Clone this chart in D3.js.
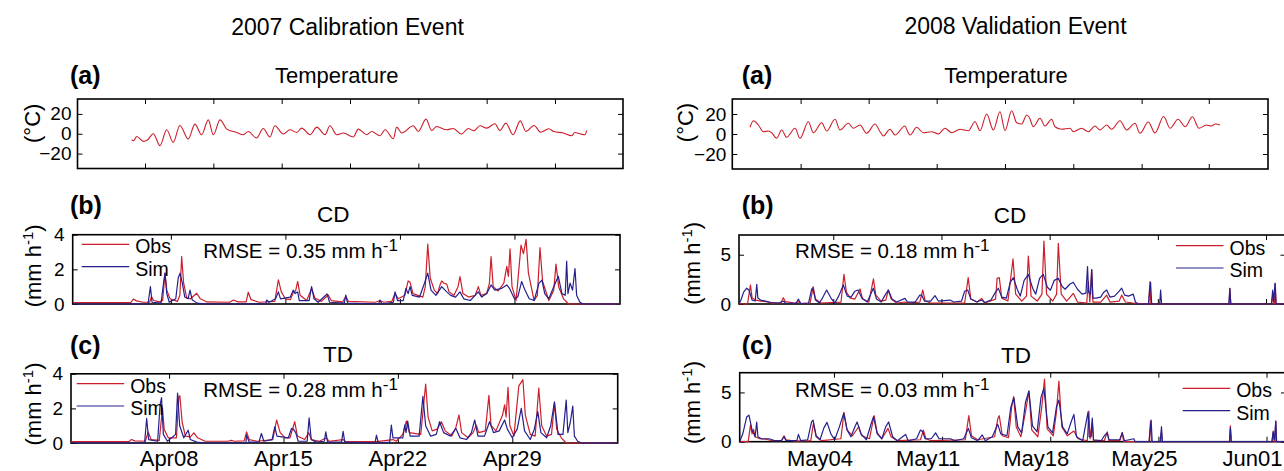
<!DOCTYPE html>
<html>
<head>
<meta charset="utf-8">
<script src="https://d3js.org/d3.v7.min.js"></script>
<style>
  body { margin: 0; background: #fff; overflow: hidden; }
  svg { display: block; }
</style>
</head>
<body>
<div id="chart"></div>
<script>
// ---- data (x = day counted from 1 April, y = value) ----
const calDays = [2, 35.45];          // 2007 event x range
const valDays = [27.9, 63.26];       // 2008 event x range
const calDateTicks = [8, 15, 22, 29];
const calDateLabels = ['Apr08', 'Apr15', 'Apr22', 'Apr29'];
const valDateTicks = [34, 41, 48, 55, 62];
const valDateLabels = ['May04', 'May11', 'May18', 'May25', 'Jun01'];
const calTempTickDays = [6.14, 10.33, 14.52, 18.71, 22.9, 27.09, 31.28];
const valTempTickDays = [32.41, 36.9, 41.39, 45.9, 50.41, 54.92, 59.35];
const tempRange = [-35, 35];
const tempTicks = [-20, 0, 20];
const calRateRange = [0, 4];
const calRateTicks = [0, 2, 4];
const valRateRange = [0, 7];
const valRateTicks = [0, 5];
const calRmse = [0.35, 0.28];   // CD, TD
const valRmse = [0.18, 0.03];

const calTempC = [[5.32,-6],[5.45,-7],[5.63,-2.7],[6.04,-7.7],[6.3,-6],[6.65,0],[7.06,-12],[7.47,4],[7.87,-8.7],[8.28,8.3],[8.79,-5.3],[9.2,9.7],[9.61,-1],[10.02,14],[10.33,-1],[10.74,14],[11.15,4.7],[11.76,1.3],[12.17,-1],[12.47,2.3],[12.98,-4.3],[13.39,5.3],[13.8,-3.3],[14.1,8],[14.62,-0.3],[15.03,4],[15.44,1.3],[15.75,5.7],[16.26,-1],[16.67,6.7],[17.18,-1],[17.48,8],[17.89,-1],[18.3,0.7],[18.91,-3.3],[19.22,4.7],[19.73,-1],[20.04,2.3],[20.55,-2],[20.86,4],[21.37,-5],[21.57,6.7],[21.88,0.7],[22.59,8],[22.9,2.3],[23.37,14.7],[23.72,3.3],[24.02,7.3],[24.64,4],[25.04,5.3],[25.55,-0.3],[25.96,5.3],[26.3,3],[26.68,8],[27.09,5.7],[27.6,10],[27.9,3.3],[28.27,10.7],[28.71,-1],[29.15,13],[29.5,2.3],[30.0,8.3],[30.4,1.5],[30.9,5],[31.2,2.3],[31.79,0.7],[32.3,-2],[32.5,1.3],[32.81,0],[33.12,-1],[33.22,3.3]];

const calCdObs = [[2.0,0.08],[5.55,0.08],[5.71,0.29],[5.9,0.18],[6.3,0.1],[6.7,0.1],[6.82,0.42],[6.95,0.2],[7.3,0.12],[7.5,0.2],[7.64,1.78],[7.75,0.8],[7.95,0.3],[8.4,0.15],[8.55,0.5],[8.66,2.74],[8.78,1.2],[8.97,0.35],[9.2,0.3],[9.58,0.62],[9.8,0.3],[10.2,0.12],[11.6,0.1],[11.82,0.23],[12.1,0.12],[12.6,0.12],[12.73,0.68],[12.9,0.25],[13.4,0.1],[14.35,0.15],[14.57,1.39],[14.75,0.7],[15.0,0.3],[15.3,0.25],[15.5,0.7],[15.62,0.75],[15.75,1.3],[15.9,0.5],[16.3,0.2],[16.6,0.9],[16.8,0.35],[17.2,0.15],[17.62,0.52],[17.8,0.2],[18.5,0.12],[18.69,0.43],[18.85,0.15],[20.5,0.1],[20.78,0.2],[21.0,0.1],[21.5,0.15],[21.7,0.6],[21.9,0.3],[22.3,0.5],[22.5,1.33],[22.62,1.25],[22.8,0.6],[23.4,0.4],[23.55,1.0],[23.7,3.46],[23.85,1.5],[24.1,0.8],[24.3,0.6],[24.45,1.1],[24.55,1.33],[24.7,1.2],[24.86,1.15],[25.0,0.7],[25.3,0.5],[25.55,1.0],[25.67,1.58],[25.85,0.6],[26.2,0.4],[26.6,0.5],[26.79,1.0],[26.95,0.5],[27.3,0.6],[27.47,1.2],[27.57,2.74],[27.7,1.0],[28.0,0.75],[28.35,1.2],[28.53,2.18],[28.63,1.6],[28.73,3.19],[28.85,1.0],[29.1,0.2],[29.4,3.4],[29.55,2.9],[29.71,3.73],[29.85,1.8],[30.2,0.2],[30.4,0.5],[30.56,3.25],[30.72,1.3],[31.1,0.2],[31.4,0.8],[31.54,2.3],[31.7,1.0],[32.0,0.3],[32.3,0],[35.45,0]];

const calCdSim = [[2.0,0],[6.6,0],[6.75,1.0],[6.85,0.1],[7.4,0.05],[7.55,1.2],[7.64,1.78],[7.75,0.6],[7.9,0.1],[8.3,0.3],[8.45,1.5],[8.56,1.78],[8.7,1.2],[8.85,0.4],[9.05,0.3],[9.17,0.8],[9.3,0.25],[9.6,0.05],[10.2,0],[13.8,0],[13.86,0.23],[14.0,0.1],[14.4,0.3],[14.57,0.7],[14.7,0.3],[15.3,0.4],[15.48,0.8],[15.6,0.6],[15.75,0.7],[15.85,0.2],[16.45,0.2],[16.6,1.0],[16.75,0.3],[17.0,0.1],[17.55,0.58],[17.7,0.1],[18.6,0.05],[18.69,0.52],[18.8,0.05],[20.7,0],[20.78,0.23],[20.9,0],[21.6,0.1],[21.7,0.7],[21.85,0.2],[22.2,0.2],[22.37,0.9],[22.5,0.6],[22.62,1.0],[22.75,0.5],[23.2,0.4],[23.5,1.2],[23.7,1.78],[23.9,0.8],[24.2,0.5],[24.55,1.0],[24.86,0.7],[25.1,0.5],[25.4,0.4],[25.67,0.7],[25.9,0.3],[26.3,0.2],[26.6,0.5],[26.79,0.7],[27.0,0.4],[27.3,0.6],[27.57,1.1],[27.8,0.8],[28.2,0.9],[28.53,1.1],[28.7,0.9],[29.0,0.3],[29.2,0.4],[29.44,1.3],[29.6,0.9],[29.9,0.3],[30.2,0.2],[30.5,1.2],[30.68,1.38],[30.85,0.6],[31.1,0.3],[31.4,1.0],[31.68,1.6],[31.9,0.6],[32.1,0.5],[32.19,2.47],[32.27,0.6],[32.4,1.2],[32.55,0.8],[32.7,2.05],[32.8,0.5],[33.0,0.1],[33.2,0],[35.45,0]];

const calTdObs = [[2.0,0.08],[5.55,0.08],[5.7,0.2],[5.9,0.12],[6.55,0.1],[6.72,0.64],[6.9,0.2],[7.4,0.15],[7.6,2.0],[7.7,0.8],[7.95,0.3],[8.45,0.3],[8.6,2.7],[8.66,2.73],[8.8,1.2],[9.0,0.4],[9.3,0.35],[9.52,0.59],[9.75,0.3],[10.2,0.1],[11.6,0.1],[11.8,0.15],[12.0,0.1],[12.6,0.12],[12.74,0.64],[12.9,0.2],[13.4,0.1],[14.35,0.2],[14.58,1.33],[14.8,0.6],[15.1,0.3],[15.4,0.3],[15.69,1.23],[15.85,0.4],[16.3,0.2],[16.55,0.6],[16.7,0.2],[17.2,0.1],[17.62,0.3],[17.8,0.1],[18.65,0.2],[18.8,0.08],[20.7,0.08],[21.7,0.2],[21.9,0.1],[22.3,0.5],[22.52,1.27],[22.7,0.6],[23.4,0.5],[23.7,3.41],[23.85,1.5],[24.1,0.7],[24.4,0.8],[24.66,1.23],[24.9,0.7],[25.3,0.4],[25.55,0.9],[25.74,1.62],[25.9,0.6],[26.3,0.3],[26.6,0.6],[26.8,1.03],[26.95,0.6],[27.35,0.7],[27.57,2.75],[27.7,1.0],[28.0,0.7],[28.4,1.6],[28.53,2.2],[28.62,1.5],[28.74,3.22],[28.85,1.0],[29.1,0.4],[29.4,3.3],[29.65,3.66],[29.8,1.6],[30.1,0.5],[30.4,0.4],[30.62,3.18],[30.8,1.0],[31.1,0.4],[31.4,0.5],[31.58,2.29],[31.72,0.8],[32.0,0.3],[32.3,0],[35.45,0]];

const calTdSim = [[2.0,0],[6.5,0],[6.63,1.42],[6.75,0.2],[7.3,0.1],[7.45,2.2],[7.54,2.63],[7.65,0.5],[7.9,0.1],[8.4,0.5],[8.52,2.89],[8.65,1.0],[8.9,0.3],[9.17,0.74],[9.3,0.2],[9.7,0.05],[10.2,0],[12.7,0],[12.74,0.45],[12.9,0.05],[13.5,0.05],[13.65,0.55],[13.8,0.1],[14.3,0.2],[14.47,0.94],[14.6,0.4],[15.3,0.3],[15.49,0.84],[15.6,0.8],[15.75,0.6],[15.9,0.1],[16.45,0.1],[16.57,1.46],[16.7,0.2],[17.0,0.05],[17.5,0.1],[17.59,0.64],[17.7,0.05],[18.55,0.05],[18.65,0.68],[18.75,0.05],[20.6,0],[20.69,0.45],[20.8,0],[21.5,0.05],[21.6,1.03],[21.7,0.3],[22.3,0.3],[22.42,1.03],[22.5,0.6],[22.6,1.27],[22.75,0.4],[23.3,0.4],[23.53,2.69],[23.7,1.0],[24.0,0.4],[24.35,0.5],[24.55,1.23],[24.8,0.6],[25.2,0.4],[25.55,0.84],[25.8,0.3],[26.2,0.2],[26.5,0.6],[26.7,1.33],[26.9,0.4],[27.3,0.4],[27.61,1.23],[27.85,0.6],[28.2,0.7],[28.53,1.33],[28.7,0.8],[29.0,0.3],[29.3,0.8],[29.55,2.0],[29.75,0.7],[30.1,0.2],[30.35,0.8],[30.56,1.81],[30.75,0.6],[31.1,0.3],[31.35,1.0],[31.58,2.38],[31.8,0.5],[32.1,0.5],[32.3,2.48],[32.4,0.6],[32.55,1.2],[32.7,2.13],[32.8,0.4],[33.0,0.1],[33.25,0],[35.45,0]];

const valTempC = [[29.07,6.7],[29.29,13.3],[29.62,9],[29.95,2.3],[30.28,3],[30.5,1.3],[30.83,-4.3],[31.16,4],[31.49,-3.3],[32.04,5.7],[32.37,-4.3],[32.92,12.3],[33.25,1.3],[33.8,11.3],[34.13,3],[34.68,14.7],[35.01,4],[35.56,10.7],[35.89,5.7],[36.33,9],[36.77,0.7],[37.32,10],[37.65,2.3],[37.87,-2],[38.31,4.7],[38.64,-1],[39.3,8],[39.45,3.3],[39.63,-1],[40.07,6.7],[40.51,1.3],[41.06,2.3],[41.5,0],[41.94,5.7],[42.38,1.3],[42.93,4.7],[43.48,3.3],[43.92,12.3],[44.25,3.3],[44.69,20],[45.13,4],[45.57,22.3],[45.9,3.3],[46.34,23.3],[46.67,11.3],[47.0,10],[47.33,19],[47.5,16.7],[47.77,7.3],[48.21,15.7],[48.54,8],[48.98,14.7],[49.2,7.3],[49.64,4.7],[50.19,5.7],[50.41,2.3],[50.96,5.7],[51.4,2.3],[51.84,8],[52.17,4],[52.61,9],[52.94,4.7],[53.49,13.3],[53.93,4],[54.48,10.7],[54.81,0.7],[55.36,12],[55.8,1],[56.37,17.5],[56.8,5.7],[57.32,14.7],[57.8,7.3],[58.27,17.3],[58.7,5.7],[59.2,9],[59.5,8],[59.8,10],[60.09,9]];

const valCdObs = [[27.9,0],[28.45,0],[28.64,1.93],[28.75,0.6],[29.0,0.4],[29.3,0.3],[29.6,0.25],[30.0,0.1],[30.6,0.1],[30.77,0.64],[30.9,0.25],[31.5,0.1],[31.74,0.24],[31.9,0.05],[32.5,0.1],[32.7,1.76],[32.85,0.5],[33.2,0.1],[34.5,0.2],[34.69,3.0],[34.85,1.2],[35.1,0.6],[35.4,0.5],[35.73,1.52],[35.9,0.5],[36.3,0.2],[36.6,2.54],[36.75,0.9],[37.1,0.3],[37.4,0.4],[37.56,1.42],[37.75,0.5],[38.1,0.1],[38.64,0.2],[38.8,0.1],[39.6,0.2],[39.79,1.42],[39.95,0.3],[40.3,0.1],[42.5,0.1],[42.73,2.67],[42.9,0.5],[43.3,0.2],[43.6,0.57],[43.8,0.1],[44.5,0.5],[44.6,2.6],[44.74,2.67],[44.9,0.6],[45.3,0.3],[45.63,4.57],[45.8,1.0],[46.2,0.3],[46.5,0.8],[46.62,4.87],[46.8,0.8],[47.2,0.3],[47.5,1.0],[47.63,6.39],[47.8,1.0],[48.2,0.3],[48.45,1.0],[48.56,6.15],[48.75,1.0],[49.1,0.3],[49.53,1.08],[49.8,0.2],[50.4,0.1],[50.5,2.27],[50.6,0.2],[50.72,3.5],[50.8,0.2],[51.3,0.2],[51.69,0.9],[51.9,0.2],[52.5,0.3],[52.66,0.9],[52.9,0.2],[53.4,0.1],[54.4,0],[54.49,2.27],[54.55,0],[59.6,0],[59.66,1.6],[59.72,0],[62.35,0],[62.43,0.8],[62.5,0],[62.55,0],[62.6,2.1],[62.65,0],[63.26,0]];

const valCdSim = [[27.9,0],[28.0,0.3],[28.2,1.2],[28.4,1.6],[28.55,1.4],[28.75,0.4],[28.95,0.3],[29.05,2.0],[29.12,0.6],[29.3,0.4],[29.6,0.3],[30.0,0.15],[30.5,0.1],[30.77,0.3],[30.9,0.1],[31.6,0.05],[31.74,0.5],[31.9,0.05],[32.4,0.1],[32.6,1.5],[32.67,1.6],[32.85,0.4],[33.1,0.1],[33.3,0.6],[33.57,1.42],[33.85,0.6],[34.1,0.1],[34.35,0.8],[34.65,1.93],[34.9,0.8],[35.15,0.7],[35.4,1.3],[35.6,1.42],[35.85,0.6],[36.2,0.2],[36.45,1.1],[36.59,1.6],[36.8,0.5],[37.1,0.2],[37.35,0.9],[37.56,1.42],[37.8,0.5],[38.1,0.2],[38.64,0.57],[38.8,0.2],[39.3,0.2],[39.6,0.9],[39.72,0.9],[39.9,0.3],[40.3,0.3],[40.58,0.85],[40.8,0.3],[41.2,0.35],[41.55,0.4],[41.8,0.2],[42.3,0.3],[42.5,1.3],[42.7,1.42],[42.9,0.5],[43.3,0.2],[43.6,0.4],[43.8,0.15],[44.2,0.4],[44.5,1.2],[44.68,1.6],[44.9,0.7],[45.2,0.6],[45.45,2.2],[45.65,2.67],[45.9,1.5],[46.1,0.8],[46.35,2.4],[46.62,3.0],[46.9,1.6],[47.1,1.0],[47.35,2.6],[47.59,3.0],[47.85,1.7],[48.05,1.4],[48.3,2.4],[48.56,2.6],[48.8,1.8],[49.0,1.5],[49.3,2.0],[49.53,2.2],[49.8,1.5],[50.1,1.0],[50.35,1.1],[50.45,3.79],[50.52,1.2],[50.65,1.0],[50.72,3.5],[50.8,0.6],[51.0,0.6],[51.3,0.7],[51.5,1.2],[51.69,1.42],[51.9,0.7],[52.2,0.8],[52.5,1.3],[52.66,1.6],[52.85,0.9],[53.1,0.8],[53.41,1.0],[53.55,0.2],[53.7,0],[54.4,0],[54.45,1.0],[54.53,2.2],[54.6,0],[55.12,0],[55.18,1.42],[55.24,0],[59.6,0],[59.66,1.6],[59.72,0],[62.35,0],[62.43,1.4],[62.5,0.3],[62.58,2.1],[62.65,0],[63.26,0]];

const valTdObs = [[27.9,0],[28.45,0],[28.6,1.7],[28.7,0.8],[28.8,1.25],[28.9,0.5],[29.2,0.3],[29.6,0.25],[30.0,0.1],[30.6,0.1],[30.77,0.6],[30.9,0.2],[31.5,0.05],[32.5,0.1],[32.67,1.86],[32.85,0.5],[33.2,0.1],[34.45,0.3],[34.65,2.98],[34.85,1.2],[35.2,0.6],[35.6,1.52],[35.8,0.6],[36.3,0.3],[36.6,2.64],[36.8,0.9],[37.1,0.3],[37.5,1.35],[37.7,0.5],[38.1,0.1],[39.6,0.2],[39.79,1.18],[39.95,0.3],[40.3,0.1],[42.5,0.2],[42.73,2.64],[42.9,0.6],[43.3,0.2],[44.4,0.5],[44.6,2.3],[44.7,2.64],[44.9,0.6],[45.3,0.4],[45.5,3.5],[45.63,4.57],[45.8,1.5],[46.1,0.5],[46.45,3.5],[46.62,5.14],[46.8,1.2],[47.2,0.5],[47.45,3.5],[47.63,6.36],[47.8,1.3],[48.2,0.6],[48.4,3.0],[48.56,6.15],[48.75,1.5],[49.1,0.6],[49.53,1.08],[49.8,0.3],[50.4,0.1],[50.5,3.1],[50.58,0.3],[50.72,2.0],[50.8,0.1],[51.5,0.1],[51.69,1.0],[51.8,0.1],[52.5,0.1],[52.66,0.95],[52.75,0],[54.4,0],[54.49,2.1],[54.55,0],[55.12,0],[55.2,1.0],[55.25,0],[59.6,0],[59.66,1.62],[59.72,0],[62.35,0],[62.43,1.08],[62.5,0],[62.55,0],[62.6,2.1],[62.65,0],[63.26,0]];

const valTdSim = [[27.9,0],[28.1,0.8],[28.35,2.5],[28.5,2.7],[28.7,1.2],[28.9,0.5],[29.0,2.0],[29.08,0.5],[29.3,0.3],[29.8,0.3],[30.2,0.1],[30.6,0.1],[30.77,0.5],[30.9,0.1],[31.6,0.1],[31.7,0.74],[31.85,0.1],[32.3,0.2],[32.55,2.0],[32.65,2.2],[32.85,0.6],[33.1,0.2],[33.35,1.4],[33.55,1.96],[33.8,0.8],[34.05,0.2],[34.35,1.5],[34.63,2.87],[34.85,1.2],[35.1,0.5],[35.35,1.5],[35.5,2.0],[35.75,0.8],[36.1,0.2],[36.4,1.8],[36.56,2.54],[36.8,0.8],[37.1,0.3],[37.35,1.5],[37.54,2.0],[37.8,0.5],[38.1,0.1],[38.64,0.74],[38.8,0.1],[39.35,0.3],[39.6,1.18],[39.75,1.0],[39.9,0.3],[40.3,0.3],[40.58,0.9],[40.8,0.3],[41.55,0.3],[41.8,0.1],[42.4,0.3],[42.7,1.35],[42.9,0.4],[43.3,0.1],[43.6,0.68],[43.8,0.1],[44.25,0.5],[44.6,1.76],[44.8,0.8],[45.2,0.6],[45.45,3.5],[45.65,4.46],[45.9,1.5],[46.15,0.9],[46.4,4.0],[46.62,5.14],[46.85,1.6],[47.15,1.0],[47.4,4.5],[47.59,5.41],[47.85,1.5],[48.15,0.9],[48.4,3.5],[48.56,4.23],[48.8,1.5],[49.1,0.8],[49.35,2.0],[49.53,2.77],[49.7,0.5],[50.1,0.1],[50.45,3.04],[50.52,0.5],[50.65,0.5],[50.72,2.4],[50.8,0.2],[51.3,0.1],[51.5,0.6],[51.69,0.9],[51.8,0.2],[52.5,0.2],[52.66,0.9],[52.8,0.1],[53.41,0.3],[53.5,0],[54.4,0],[54.49,1.6],[54.53,2.2],[54.6,0],[55.12,0],[55.2,1.52],[55.26,0],[59.6,0],[59.66,1.4],[59.72,0],[62.35,0],[62.43,1.0],[62.5,0.2],[62.6,2.1],[62.65,0],[63.26,0]];

// ---- drawing ----
const W = 1284, H = 471;
const FONT = '"Liberation Sans", Arial, Helvetica, sans-serif';
const OBS = '#cc1f2b';
const SIM = '#24208e';

const svg = d3.select('#chart').append('svg')
    .attr('width', W)
    .attr('height', H)
    .style('font-family', FONT);

function addText(x, y, str, size, opts = {}) {
    return svg.append('text')
        .attr('x', x)
        .attr('y', y)
        .attr('text-anchor', opts.anchor || 'middle')
        .attr('dominant-baseline', opts.baseline || 'central')
        .attr('font-size', size)
        .attr('font-weight', opts.bold ? 'bold' : 'normal')
        .attr('fill', '#000')
        .text(str);
}

// text with a "-1" superscript, optionally rotated
function unitText(x, y, before, after, size, supSize, supDy, rotate) {
    const t = svg.append('text')
        .attr('x', x)
        .attr('y', y)
        .attr('font-size', size)
        .attr('fill', '#000')
        .attr('text-anchor', rotate ? 'middle' : 'start');
    if (rotate) t.attr('transform', `rotate(-90,${x},${y})`);
    t.append('tspan').text(before);
    t.append('tspan').attr('font-size', supSize).attr('dy', supDy).text('-1');
    if (after) t.append('tspan').attr('dy', -supDy).text(after);
    return t;
}

let clipId = 0;
function drawPanel(p) {
    const b = p.box;
    const x = d3.scaleLinear().domain(p.xDomain).range([b.x0, b.x1]);
    const y = d3.scaleLinear().domain(p.yDomain).range([b.y1, b.y0]);
    const g = svg.append('g');

    const id = 'clip' + (clipId++);
    g.append('clipPath').attr('id', id)
        .append('rect')
        .attr('x', b.x0).attr('y', b.y0 - 1)
        .attr('width', b.x1 - b.x0).attr('height', b.y1 - b.y0 + 2);

    g.append('rect')
        .attr('x', b.x0).attr('y', b.y0)
        .attr('width', b.x1 - b.x0).attr('height', b.y1 - b.y0)
        .attr('fill', 'none')
        .attr('stroke', '#000')
        .attr('stroke-width', 1.6);

    const tick = 5;
    const axes = [
        [d3.axisTop(x).tickValues(p.xTicks).tickFormat(''), `translate(0,${b.y0})`],
        [d3.axisBottom(x).tickValues(p.xTicks).tickFormat(''), `translate(0,${b.y1})`],
        [d3.axisRight(y).tickValues(p.yTicks).tickFormat(''), `translate(${b.x1},0)`],
        [d3.axisLeft(y).tickValues(p.yTicks).tickFormat(d3.format('~g')).tickPadding(p.pad), `translate(${b.x0},0)`]
    ];
    axes.forEach(([ax, tr]) => {
        const a = g.append('g')
            .attr('transform', tr)
            .call(ax.tickSizeInner(-tick).tickSizeOuter(0));
        a.select('.domain').remove();
        a.selectAll('line').attr('stroke', '#000').attr('stroke-width', 1);
        a.selectAll('text')
            .attr('fill', '#000')
            .style('font-size', '19px')
            .style('font-family', FONT);
    });

    p.series.forEach(s => {
        const line = d3.line()
            .x(d => x(d[0]))
            .y(d => y(d[1]))
            .curve(s.smooth ? d3.curveMonotoneX : d3.curveLinear);
        g.append('path')
            .datum(s.values)
            .attr('clip-path', `url(#${id})`)
            .attr('d', line)
            .attr('fill', 'none')
            .attr('stroke', s.color)
            .attr('stroke-width', s.smooth ? 1.1 : 1.2)
            .attr('stroke-linejoin', 'round');
    });

    if (p.dateLabels) {
        g.selectAll('.date-label')
            .data(p.xTicks)
            .join('text')
            .attr('class', 'date-label')
            .attr('x', d => x(d) + p.labelDx)
            .attr('y', 466)
            .attr('text-anchor', 'middle')
            .attr('font-size', 22)
            .attr('fill', '#000')
            .text((d, i) => p.dateLabels[i]);
    }

    if (p.legend) {
        const L = p.legend;
        [['Obs', OBS, 0], ['Sim', SIM, 22.3]].forEach(([name, color, off]) => {
            g.append('line')
                .attr('x1', L.x).attr('x2', L.x + 47.5)
                .attr('y1', L.y + off).attr('y2', L.y + off)
                .attr('stroke', color)
                .attr('stroke-width', 1.2);
            g.append('text')
                .attr('x', L.x + 53.5)
                .attr('y', L.y + off + 2)
                .attr('dominant-baseline', 'central')
                .attr('font-size', 19.5)
                .attr('fill', '#000')
                .text(name);
        });
    }

    if (p.rmse !== undefined) {
        unitText(p.rmsePos[0], p.rmsePos[1],
            'RMSE = ' + d3.format('.2f')(p.rmse) + ' mm h', null, 20.5, 17, -6.5, false);
    }
}

const calTempBox = {x0: 77.5, x1: 623, y0: 99, y1: 168.5};
const calCdBox = {x0: 72.7, x1: 620, y0: 234.7, y1: 304};
const calTdBox = {x0: 71, x1: 617.7, y0: 373.8, y1: 443};
const valTempBox = {x0: 732.3, x1: 1268, y0: 99, y1: 169};
const valCdBox = {x0: 739, x1: 1285.5, y0: 235, y1: 304};
const valTdBox = {x0: 739.7, x1: 1286, y0: 372.7, y1: 441.7};

const panels = [
    {box: calTempBox, xDomain: calDays, xTicks: calTempTickDays, yDomain: tempRange, yTicks: tempTicks, pad: 6,
     series: [{values: calTempC, color: OBS, smooth: true}]},
    {box: calCdBox, xDomain: calDays, xTicks: calDateTicks, yDomain: calRateRange, yTicks: calRateTicks, pad: 8,
     series: [{values: calCdObs, color: OBS}, {values: calCdSim, color: SIM}],
     legend: {x: 81.7, y: 244.3}, rmse: calRmse[0], rmsePos: [203.3, 257.7]},
    {box: calTdBox, xDomain: calDays, xTicks: calDateTicks, yDomain: calRateRange, yTicks: calRateTicks, pad: 8,
     series: [{values: calTdObs, color: OBS}, {values: calTdSim, color: SIM}],
     legend: {x: 76.7, y: 383.7}, rmse: calRmse[1], rmsePos: [203.3, 396.7],
     dateLabels: calDateLabels, labelDx: 0},
    {box: valTempBox, xDomain: valDays, xTicks: valTempTickDays, yDomain: tempRange, yTicks: tempTicks, pad: 6,
     series: [{values: valTempC, color: OBS, smooth: true}]},
    {box: valCdBox, xDomain: valDays, xTicks: valDateTicks, yDomain: valRateRange, yTicks: valRateTicks, pad: 8,
     series: [{values: valCdObs, color: OBS}, {values: valCdSim, color: SIM}],
     legend: {x: 1176, y: 245.7}, rmse: valRmse[0], rmsePos: [795, 257.7]},
    {box: valTdBox, xDomain: valDays, xTicks: valDateTicks, yDomain: valRateRange, yTicks: valRateTicks, pad: 8,
     series: [{values: valTdObs, color: OBS}, {values: valTdSim, color: SIM}],
     legend: {x: 1182.7, y: 388.3}, rmse: valRmse[1], rmsePos: [795, 396.7],
     dateLabels: valDateLabels, labelDx: -14}
];

panels.forEach(drawPanel);

// titles
addText(347.5, 27, '2007 Calibration Event', 23);
addText(1015.5, 26, '2008 Validation Event', 23);
addText(336.7, 75, 'Temperature', 22);
addText(1006, 75, 'Temperature', 22);
addText(333.3, 214, 'CD', 22.5);
addText(1010, 215, 'CD', 22.5);
addText(338, 354, 'TD', 22.5);
addText(1016, 355, 'TD', 22.5);
addText(70, 75, '(a)', 25, {anchor: 'start', bold: true});
addText(741.7, 75, '(a)', 25, {anchor: 'start', bold: true});
addText(70, 205, '(b)', 25, {anchor: 'start', bold: true});
addText(741.7, 205, '(b)', 25, {anchor: 'start', bold: true});
addText(70, 345, '(c)', 25, {anchor: 'start', bold: true});
addText(741.7, 345, '(c)', 25, {anchor: 'start', bold: true});

// y-axis labels
[[40, 123.3], [693, 122.5]].forEach(([bx, cy]) => {
    svg.append('text')
        .attr('x', bx).attr('y', cy)
        .attr('text-anchor', 'middle')
        .attr('font-size', 22)
        .attr('fill', '#000')
        .attr('transform', `rotate(-90,${bx},${cy})`)
        .text('(°C)');
});
[[41, 265.8], [41, 404], [700, 263.3], [700, 402.5]].forEach(([bx, cy]) => {
    unitText(bx, cy, '(mm h', ')', 22, 15, -8, true);
});
</script>
</body>
</html>
